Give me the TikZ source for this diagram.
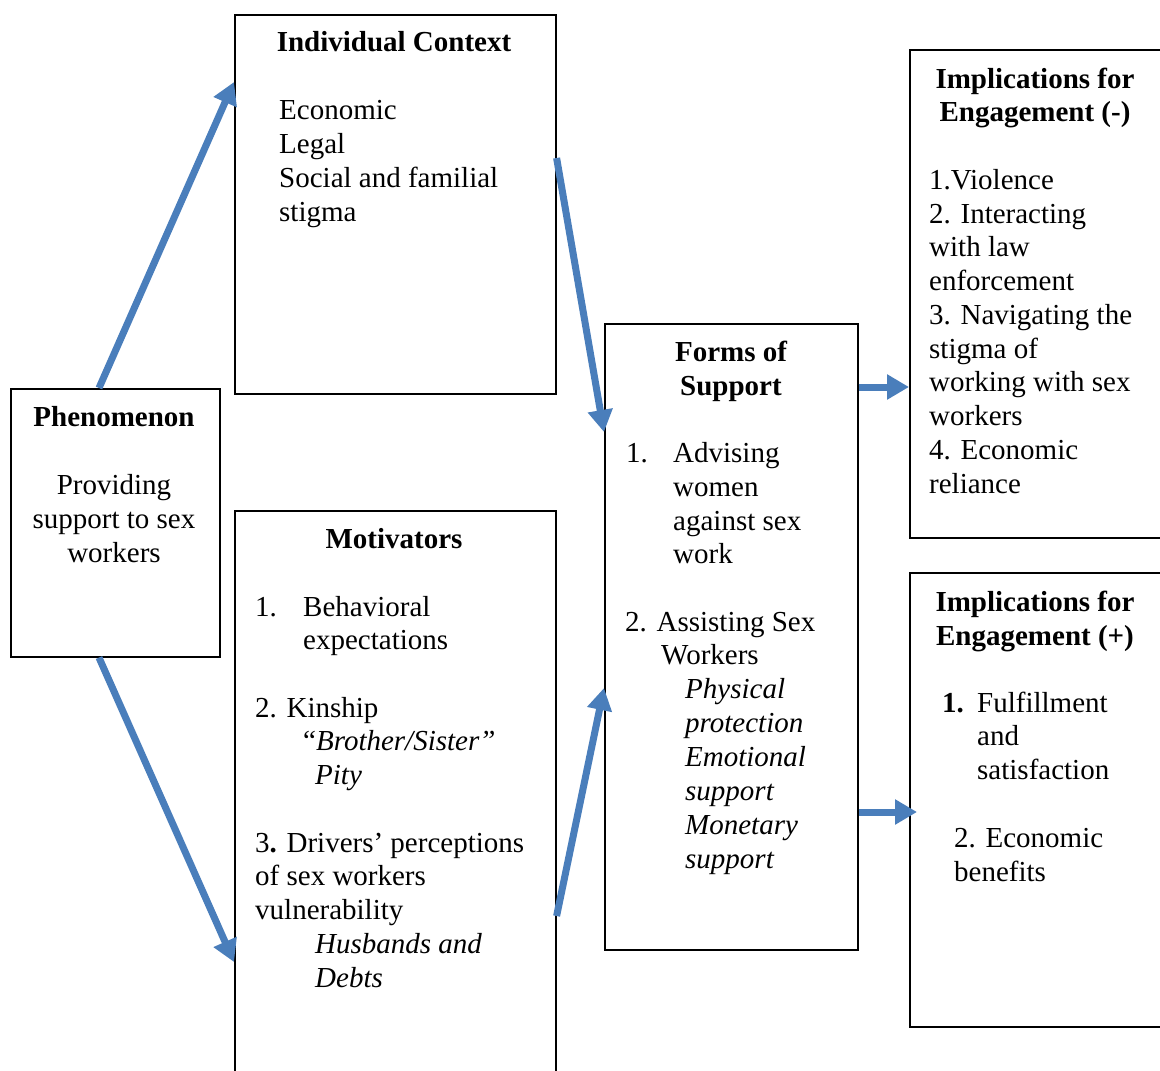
\documentclass[tikz,border=0pt]{standalone}
\usepackage{fontspec}
\setmainfont{Liberation Serif}
\usetikzlibrary{arrows.meta}
\definecolor{arrblue}{RGB}{74,126,187}
\begin{document}
\begin{tikzpicture}[x=1pt,y=-1pt,
  box/.style={draw=black, line width=1.6pt, rectangle, inner sep=0pt, anchor=north west},
  tl/.style={anchor=base west, inner sep=0pt, font=\fontsize{29}{34}\selectfont},
  tc/.style={anchor=base, inner sep=0pt, font=\fontsize{29}{34}\selectfont\bfseries},
  tm/.style={anchor=base, inner sep=0pt, font=\fontsize{29}{34}\selectfont},
  arr/.style={draw=arrblue, line width=7pt, -{Triangle[length=22pt,width=24pt]}}]
\useasboundingbox (0,0) rectangle (1160,1071);
\clip (0,0) rectangle (1160,1071);
\fill[white] (0,0) rectangle (1160,1071);

% boxes
\node[box, minimum width=321pt, minimum height=379pt] (ic) at (234,14) {};
\node[box, minimum width=209pt, minimum height=268pt] (ph) at (10,388) {};
\node[box, minimum width=321pt, minimum height=600pt] (mot) at (234,510) {};
\node[box, minimum width=253pt, minimum height=626pt] (forms) at (604,323) {};
\node[box, minimum width=300pt, minimum height=488pt] (impn) at (909,49) {};
\node[box, minimum width=300pt, minimum height=454pt] (impp) at (909,572) {};

% Individual Context
\node[tc] (ict) at (394,51) {Individual Context};
\node[tl] (ic1) at (279,119) {Economic};
\node[tl] (ic2) at (279,153) {Legal};
\node[tl] (ic3) at (279,187) {Social and familial};
\node[tl] (ic4) at (279,221) {stigma};

% Phenomenon
\node[tc] (pht) at (114,426) {Phenomenon};
\node[tm] (ph1) at (114,494) {Providing};
\node[tm] (ph2) at (114,528) {support to sex};
\node[tm] (ph3) at (114,562) {workers};

% Motivators
\node[tc] (mott) at (394,548) {Motivators};
\node[tl] (m1n) at (255,616) {1.};
\node[tl] (m1a) at (303,616) {Behavioral};
\node[tl] (m1b) at (303,649) {expectations};
\node[tl] (m2a) at (255,717) {2. Kinship};
\node[tl] (m2b) at (303,750) {“\textit{Brother/Sister”}};
\node[tl] (m2c) at (315,784) {\textit{Pity}};
\node[tl] (m3a) at (255,852) {3\textbf{.} Drivers’ perceptions};
\node[tl] (m3b) at (255,885) {of sex workers};
\node[tl] (m3c) at (255,919) {vulnerability};
\node[tl] (m3d) at (315,953) {\textit{Husbands and}};
\node[tl] (m3e) at (315,987) {\textit{Debts}};

% Forms of Support
\node[tc] (ft1) at (731,361) {Forms of};
\node[tc] (ft2) at (731,395) {Support};
\node[tl] (f1n) at (626,462) {1.};
\node[tl] (f1a) at (673,462) {Advising};
\node[tl] (f1b) at (673,496) {women};
\node[tl] (f1c) at (673,530) {against sex};
\node[tl] (f1d) at (673,563) {work};
\node[tl] (f2a) at (625,631) {2. Assisting Sex};
\node[tl] (f2b) at (661,664) {Workers};
\node[tl] (f2c) at (685,698) {\textit{Physical}};
\node[tl] (f2d) at (685,732) {\textit{protection}};
\node[tl] (f2e) at (685,766) {\textit{Emotional}};
\node[tl] (f2f) at (685,800) {\textit{support}};
\node[tl] (f2g) at (685,834) {\textit{Monetary}};
\node[tl] (f2h) at (685,868) {\textit{support}};

% Implications (-)
\node[tc] (nt1) at (1035,88) {Implications for};
\node[tc] (nt2) at (1035,121) {Engagement (-)};
\node[tl] (n1) at (929,189) {1.Violence};
\node[tl] (n2) at (929,223) {2. Interacting};
\node[tl] (n3) at (929,256) {with law};
\node[tl] (n4) at (929,290) {enforcement};
\node[tl] (n5) at (929,324) {3. Navigating the};
\node[tl] (n6) at (929,358) {stigma of};
\node[tl] (n7) at (929,391) {working with sex};
\node[tl] (n8) at (929,425) {workers};
\node[tl] (n9) at (929,459) {4. Economic};
\node[tl] (n10) at (929,493) {reliance};

% Implications (+)
\node[tc] (pt1) at (1035,611) {Implications for};
\node[tc] (pt2) at (1035,645) {Engagement (+)};
\node[tl] (p1n) at (942,712) {\textbf{1.}};
\node[tl] (p1a) at (977,712) {Fulfillment};
\node[tl] (p1b) at (977,745) {and};
\node[tl] (p1c) at (977,779) {satisfaction};
\node[tl] (p2a) at (954,847) {2. Economic};
\node[tl] (p2b) at (954,881) {benefits};

% arrows
\draw[arr] ([xshift=89pt]ph.north west) -- ([yshift=-68pt]ic.north west);
\draw[arr] ([xshift=89pt]ph.south west) -- ([yshift=-452pt]mot.north west);
\draw[arr] ([yshift=-144pt]ic.north east) -- ([yshift=-109pt]forms.north west);
\draw[arr] ([yshift=-406pt]mot.north east) -- ([yshift=-365pt]forms.north west);
\draw[arr] ([yshift=-64pt]forms.north east) -- ([yshift=-338pt]impn.north west);
\draw[arr] ([yshift=-489pt]forms.north east) -- ([xshift=8pt,yshift=-240pt]impp.north west);
\end{tikzpicture}
\end{document}
